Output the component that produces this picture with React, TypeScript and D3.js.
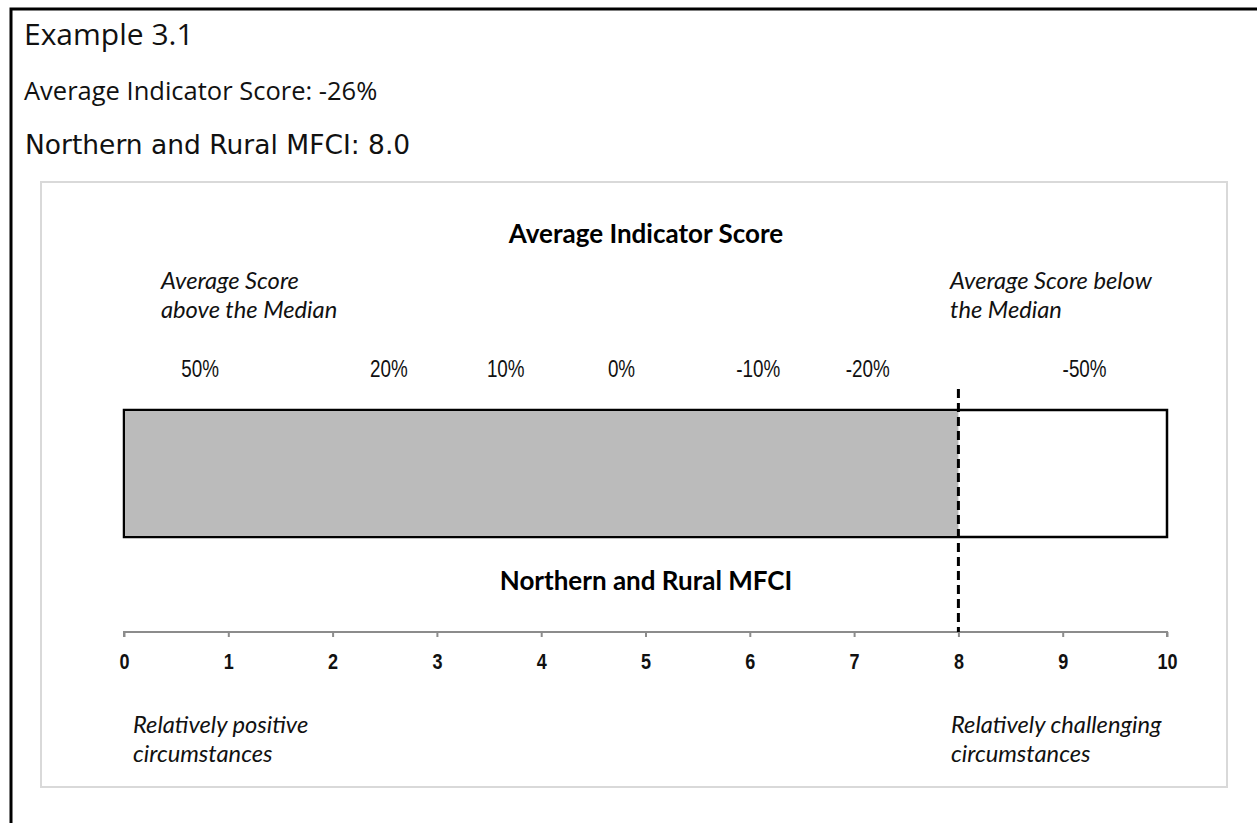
import React, { useEffect, useRef } from 'react';
import * as d3 from 'd3';

// MFCI scale ticks
const mfciTicks = [0, 1, 2, 3, 4, 5, 6, 7, 8, 9, 10];
const mfciValue = 8.0;
const avgScore = -26;

// average indicator score labels and where they sit on the MFCI scale
const pctLabels = ['50%', '20%', '10%', '0%', '-10%', '-20%', '-50%'];
const pctAt = [0.73, 2.54, 3.66, 4.77, 6.08, 7.13, 9.21];

const W = 1257;
const H = 823;

function App() {
  const ref = useRef<SVGSVGElement>(null);

  useEffect(() => {
    const svg = d3.select(ref.current);
    svg.selectAll('*').remove();

    const calibri = "Lato, 'Open Sans', sans-serif";
    const narrow = "'Liberation Sans', Arial, sans-serif";
    const squeeze = 0.82; // fake Arial Narrow

    // outer frame, runs off the page on the right and bottom
    svg.append('rect')
      .attr('x', 11).attr('y', 9).attr('width', W).attr('height', H)
      .attr('fill', 'none').attr('stroke', '#000').attr('stroke-width', 3);

    svg.append('text').attr('x', 24).attr('y', 45)
      .style('font-family', "'Open Sans', sans-serif").style('font-size', '30px').attr('fill', '#111')
      .text('Example 3.1');
    svg.append('text').attr('x', 24).attr('y', 100)
      .style('font-family', "'Open Sans', sans-serif").style('font-size', '25.5px').attr('fill', '#111')
      .text(`Average Indicator Score: ${avgScore}%`);
    svg.append('text').attr('x', 25).attr('y', 154)
      .style('font-family', "'DejaVu Sans', sans-serif").style('font-size', '26.5px')
      .attr('fill', '#111')
      .text(`Northern and Rural MFCI: ${mfciValue.toFixed(1)}`);

    // chart area box
    svg.append('rect')
      .attr('x', 41).attr('y', 182).attr('width', 1186).attr('height', 605)
      .attr('fill', '#fff').attr('stroke', '#d9d9d9').attr('stroke-width', 2);

    const x = d3.scaleLinear().domain([0, 10]).range([124, 1167]);
    const barTop = 410;
    const barH = 127;
    const axisY = 632;

    svg.append('text').attr('x', 646).attr('y', 243).attr('text-anchor', 'middle')
      .style('font-family', calibri).style('font-size', '26px').style('font-weight', 700)
      .text('Average Indicator Score');

    const italicBlock = (lines: string[], x0: number, y0: number) => {
      const t = svg.append('text')
        .style('font-family', calibri).style('font-size', '23.7px').style('font-style', 'italic')
        .attr('fill', '#111');
      lines.forEach((l, i) => {
        t.append('tspan').attr('x', x0).attr('y', y0 + i * 29).text(l);
      });
    };
    italicBlock(['Average Score', 'above the Median'], 161, 289);
    italicBlock(['Average Score below', 'the Median'], 950, 289);

    svg.append('g').selectAll('text').data(pctLabels).enter()
      .append('text')
      .attr('transform', (d, i) => `translate(${x(pctAt[i])},377) scale(${squeeze},1)`)
      .attr('text-anchor', 'middle')
      .style('font-family', narrow).style('font-size', '23px')
      .attr('fill', '#111')
      .text((d) => d);

    // bar: full scale outline, gray fill up to the MFCI value
    svg.append('rect')
      .attr('x', x(0)).attr('y', barTop).attr('width', x(10) - x(0)).attr('height', barH)
      .attr('fill', '#fff').attr('stroke', '#000').attr('stroke-width', 2.5);
    svg.append('rect')
      .attr('x', x(0) + 1).attr('y', barTop + 1).attr('width', x(mfciValue) - x(0) - 1).attr('height', barH - 2)
      .attr('fill', '#bbbbbb');

    svg.append('text').attr('x', 646).attr('y', 590).attr('text-anchor', 'middle')
      .style('font-family', calibri).style('font-size', '26px').style('font-weight', 700)
      .text('Northern and Rural MFCI');

    const axis = d3.axisBottom(x).tickValues(mfciTicks).tickSize(5).tickSizeOuter(5)
      .tickFormat(d3.format('d'));
    const g = svg.append('g').attr('transform', `translate(0,${axisY})`).call(axis);
    g.select('.domain').attr('stroke', '#8c8c8c').attr('stroke-width', 2)
      .attr('d', `M${x(0)},5V0H${x(10)}V5`);
    g.selectAll('.tick line').attr('stroke', '#8c8c8c').attr('stroke-width', 2);
    g.selectAll('.tick text')
      .attr('y', null).attr('dy', null)
      .attr('transform', `translate(0,37) scale(${squeeze},1)`)
      .style('font-family', narrow).style('font-size', '22px').style('font-weight', 700)
      .attr('fill', '#111');

    // median marker
    svg.append('line')
      .attr('x1', x(mfciValue)).attr('x2', x(mfciValue))
      .attr('y1', 389).attr('y2', axisY)
      .attr('stroke', '#000').attr('stroke-width', 3).attr('stroke-dasharray', '9,5');

    italicBlock(['Relatively positive', 'circumstances'], 133, 733);
    italicBlock(['Relatively challenging', 'circumstances'], 951, 733);
  }, []);

  return (
    <svg
      ref={ref}
      width={W}
      height={H}
      style={{ position: 'absolute', left: 0, top: 0, background: '#fff' }}
    />
  );
}

export default App;
